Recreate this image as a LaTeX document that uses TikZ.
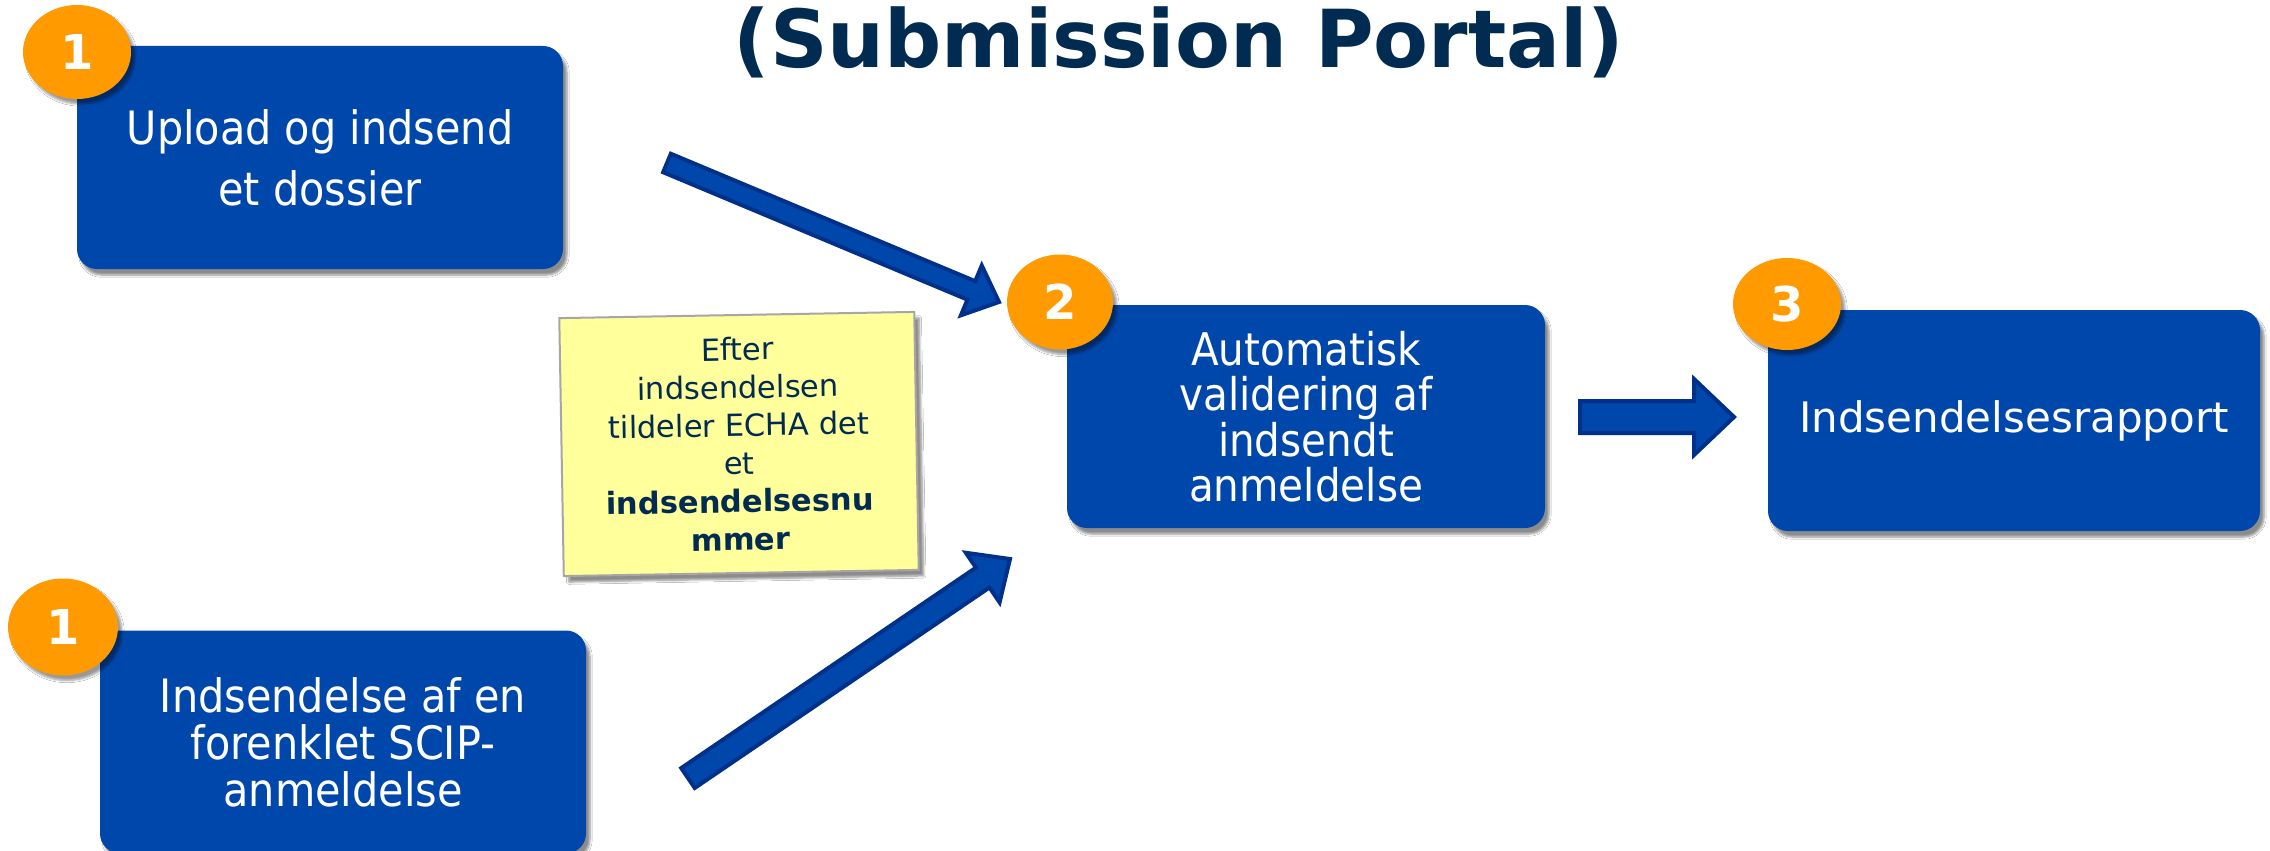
\documentclass[tikz,border=0pt]{standalone}
\usepackage{fontspec}
\setmainfont{DejaVu Sans}
\newfontfamily\narrowfont[FakeStretch=0.9]{DejaVu Sans}
\usetikzlibrary{calc,shadows.blur,shapes.geometric}
\definecolor{boxblue}{HTML}{0047AB}
\definecolor{arrowedge}{HTML}{00318A}
\definecolor{badgeorange}{HTML}{FF9A00}
\definecolor{navy}{HTML}{012B50}
\definecolor{notefill}{HTML}{FFFF9C}
\definecolor{noteedge}{HTML}{A6A6A6}
\tikzset{
  stepbox/.style={rectangle, rounded corners=20pt, fill=boxblue, text=white,
    align=center, inner sep=0pt,
    blur shadow={shadow xshift=4pt, shadow yshift=-6pt, shadow blur steps=6, shadow opacity=45}},
  badgeshape/.style={ellipse, fill=badgeorange, text=white, inner sep=0pt,
    font=\fontsize{48}{48}\bfseries\selectfont,
    blur shadow={shadow xshift=4pt, shadow yshift=-5pt, shadow blur steps=6, shadow opacity=40}},
  blockarr/.style={fill=boxblue, draw=arrowedge, line width=4pt, line join=miter},
  notebox/.style={rectangle, fill=notefill, draw=noteedge, line width=2pt,
    text=navy, align=center, inner sep=0pt,
    font=\fontsize{30.5}{38}\selectfont,
    blur shadow={shadow xshift=5pt, shadow yshift=-6pt, shadow blur steps=6, shadow opacity=45}},
  titletext/.style={text=navy, font=\fontsize{80}{80}\bfseries\selectfont, inner sep=0pt}
}
% tail, tip, shaft half width, head half width, head length
\newcommand\blockarrow[5]{%
  \coordinate (ba-j) at ($(#2)!#5!(#1)$);
  \filldraw[blockarr]
    ($(#1)!#3!90:(#2)$) -- ($(ba-j)!#3!-90:(#1)$) -- ($(ba-j)!#4!-90:(#1)$) --
    (#2) -- ($(ba-j)!#4!90:(#1)$) -- ($(ba-j)!#3!90:(#1)$) --
    ($(#1)!#3!-90:(#2)$) -- cycle;
}
\begin{document}
\begin{tikzpicture}[x=1pt,y=-1pt]
  \useasboundingbox (0,0) rectangle (2270,851);
  \clip (0,0) rectangle (2270,851);
  \fill[white] (0,0) rectangle (2270,851);

  % title
  \node[titletext, anchor=base] (title) at (1179,67) {(Submission Portal)};

  % boxes
  \node[stepbox, minimum width=486pt, minimum height=223pt,
        font=\narrowfont\fontsize{46}{61}\selectfont] (upload) at (320,157.5)
        {Upload og indsend\\et dossier};
  \node[stepbox, minimum width=478pt, minimum height=223pt,
        font=\narrowfont\fontsize{45}{45.5}\selectfont] (valid) at (1306,416.5)
        {Automatisk\\validering af\\indsendt\\anmeldelse};
  \node[stepbox, minimum width=492pt, minimum height=221pt,
        font=\fontsize{42}{48}\selectfont] (report) at (2014,420.5)
        {Indsendelsesrapport};
  \node[stepbox, minimum width=486pt, minimum height=223pt,
        font=\narrowfont\fontsize{46}{47}\selectfont] (simple) at (343,742)
        {Indsendelse af en\\forenklet SCIP-\\anmeldelse};

  % badges
  \node[badgeshape, minimum width=108pt, minimum height=94pt] (b1) at (77,52) {1};
  \node[badgeshape, minimum width=106pt, minimum height=95pt] (b2) at (1060,302) {2};
  \node[badgeshape, minimum width=108pt, minimum height=92pt] (b3) at (1787,304) {3};
  \node[badgeshape, minimum width=110pt, minimum height=97pt] (b4) at (63,627) {1};

  % note
  \node[notebox, rotate=1, minimum width=355pt, minimum height=258pt] (note) at (739,444)
    {Efter\\indsendelsen\\tildeler ECHA det\\et\\\textbf{indsendelsesnu}\\\textbf{mmer}};

  % block arrows
  \coordinate (aTail) at (667,163);
  \coordinate (aTip) at (999,302);
  \coordinate (bTail) at (688,778);
  \coordinate (bTip) at (1010,559);
  \coordinate (cTail) at (1580,417);
  \coordinate (cTip) at (1734,417);
  \blockarrow{aTail}{aTip}{10pt}{27pt}{30pt}
  \blockarrow{bTail}{bTip}{12pt}{30pt}{33pt}
  \blockarrow{cTail}{cTip}{16pt}{38pt}{40pt}
\end{tikzpicture}
\end{document}
